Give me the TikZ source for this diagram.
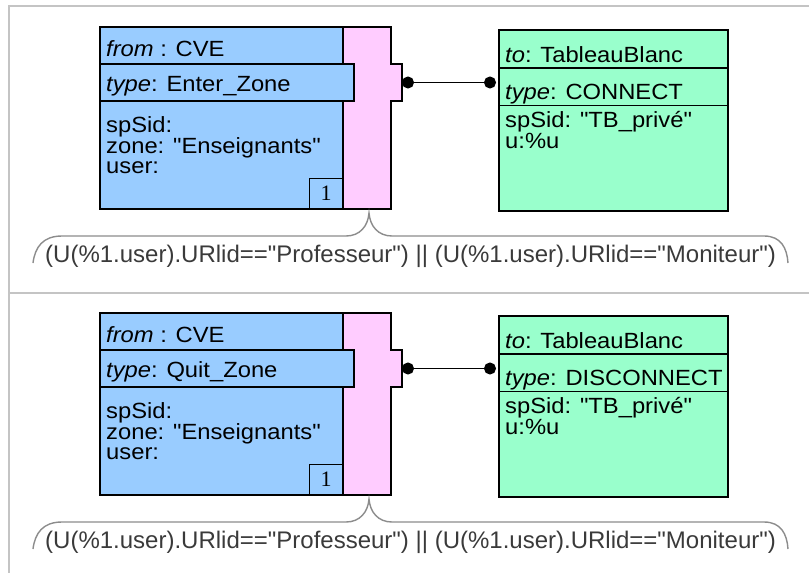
\documentclass[tikz,border=0pt]{standalone}
\usepackage{fontspec}
\setmainfont{Liberation Sans}
\newfontfamily\boxfont[FakeStretch=1.08]{Liberation Sans}
\newfontfamily\condfont{Liberation Sans}
\newfontfamily\numfont{Liberation Serif}
\usetikzlibrary{arrows.meta}
\definecolor{cblue}{HTML}{99CCFF}
\definecolor{cpink}{HTML}{FFCCFF}
\definecolor{cgreen}{HTML}{99FFCC}
\definecolor{framegray}{HTML}{C4C4C4}
\definecolor{bracegray}{HTML}{8C8C8C}
\definecolor{condtext}{HTML}{3A3A3A}
\begin{document}
\begin{tikzpicture}[x=1pt,y=-1pt,
  box/.style={draw=black, line width=1.3pt, anchor=north west, inner sep=0pt, outer sep=0pt},
  bluebox/.style={box, fill=cblue},
  greenbox/.style={box, fill=cgreen},
  pinkshape/.style={draw=black, line width=1.3pt, fill=cpink},
  numbox/.style={box, line width=1pt, font=\numfont\fontsize{22}{22}\selectfont},
  lab/.style={anchor=base west, inner sep=0pt, font=\boxfont\fontsize{22}{22}\selectfont},
  cond/.style={anchor=base west, inner sep=0pt, text=condtext, font=\condfont\fontsize{24}{24}\selectfont},
  conn/.style={draw=black, line width=1.2pt, {Circle[length=12pt,width=12pt]}-{Circle[length=12pt,width=12pt]}, shorten >=3pt},
  bracestyle/.style={draw=bracegray, line width=1.4pt},
  framestyle/.style={draw=framegray, line width=1.8pt},
  sepline/.style={draw=black, line width=1.2pt}]
\useasboundingbox (0,0) rectangle (809,573);
\draw[framestyle] (9,573) -- (9,6) -- (809,6);
\draw[framestyle] (9,293) -- (809,293);
\foreach \dy/\tp/\tq/\s in {0/Enter\_Zone/CONNECT/a,286/Quit\_Zone/DISCONNECT/b}{
  % pink aggregate with port notch
  \draw[pinkshape] (343,27+\dy) -- (391,27+\dy) -- (391,64+\dy) -- (402,64+\dy) -- (402,101+\dy) -- (391,101+\dy) -- (391,209+\dy) -- (343,209+\dy) -- cycle;
  \coordinate (port\s) at (402,82.5+\dy);
  % blue event box
  \node[bluebox, minimum width=243pt, minimum height=182pt] (blue\s) at (100,27+\dy) {};
  \node[bluebox, minimum width=254pt, minimum height=37pt] (type\s) at (100,64+\dy) {};
  \node[numbox, minimum width=34pt, minimum height=31pt] (num\s) at (309,178+\dy) {1};
  \node[lab] (fromtxt\s) at (106,56+\dy) {\textit{from} : CVE};
  \node[lab] (typetxt\s) at (106,91+\dy) {\textit{type}: \tp};
  \node[lab] (spsid\s) at (106,132+\dy) {spSid:};
  \node[lab] (zone\s) at (106,153+\dy) {zone: "Enseignants"};
  \node[lab] (user\s) at (106,173.5+\dy) {user:};
  % green action box
  \node[greenbox, minimum width=229pt, minimum height=181pt] (green\s) at (499,30+\dy) {};
  \draw[sepline] (499,68+\dy) -- (728,68+\dy);
  \draw[sepline] (499,105.5+\dy) -- (728,105.5+\dy);
  \node[lab] (totxt\s) at (505,62.5+\dy) {\textit{to}: TableauBlanc};
  \node[lab] (acttxt\s) at (505,99.5+\dy) {\textit{type}: \tq};
  \node[lab] (gsp\s) at (505,127+\dy) {spSid: "TB\_privé"};
  \node[lab] (gu\s) at (505,148+\dy) {u:\%u};
  % connector
  \draw[conn] (port\s) -- (green\s.west |- port\s);
  % condition brace
  \coordinate (tip\s) at (369,213+\dy);
  \draw[bracestyle] (33,263+\dy) .. controls (35,247+\dy) and (43,236+\dy) .. (62,236+\dy) -- (346,236+\dy) .. controls (360,236+\dy) and (368,226+\dy) .. (tip\s) .. controls (370,226+\dy) and (378,236+\dy) .. (392,236+\dy) -- (764,236+\dy) .. controls (781,236+\dy) and (787,248+\dy) .. (788,263+\dy);
  \node[cond] (cond\s) at (45,262+\dy) {(U(\%1.user).URlid=="Professeur") || (U(\%1.user).URlid=="Moniteur")};
}
\end{tikzpicture}
\end{document}
